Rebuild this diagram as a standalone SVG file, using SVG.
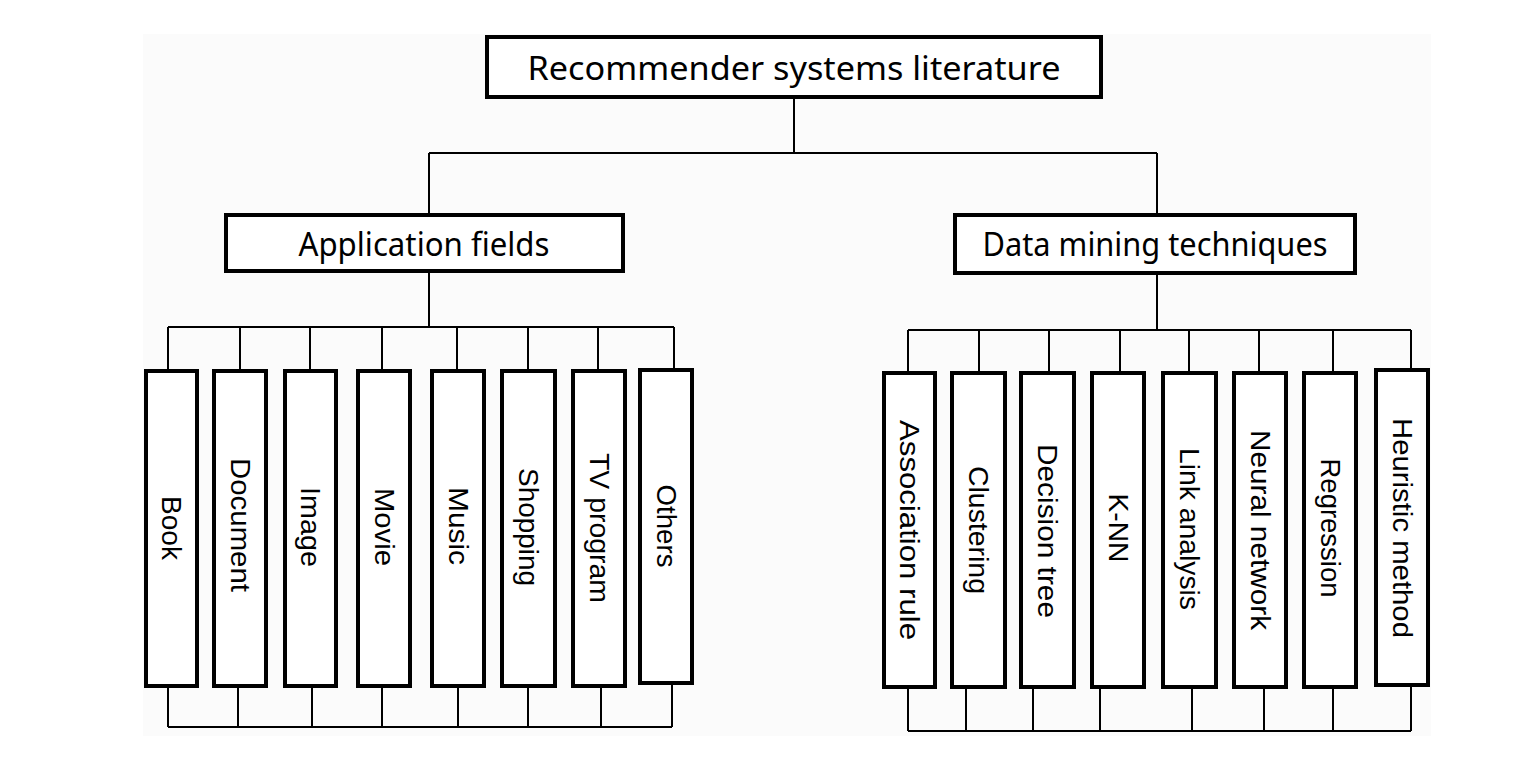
<svg xmlns="http://www.w3.org/2000/svg" width="1518" height="771" viewBox="0 0 1518 771">
<style>
.bx{fill:#fff;stroke:#000;stroke-width:4}
.ln{fill:none;stroke:#000;stroke-width:2}
.hd{font-family:"Noto Sans","Open Sans","Liberation Sans",sans-serif;font-size:32px;fill:#000;text-anchor:middle}
.vt{font-family:"Liberation Sans",Arial,sans-serif;font-size:27px;fill:#000;text-anchor:middle;dominant-baseline:central}
</style>
<rect x="0" y="0" width="1518" height="771" fill="#fff"/>
<rect x="143" y="34" width="1288" height="702" fill="#fbfbfb"/>
<g id="connectors">
<path class="ln" d="M794 97V153M429 153H1157M429 153V215M1157 153V215"/>
<path class="ln" d="M429 271V327M168 327H674M168 327V371M240 327V371M310 327V371M382 327V371M457 327V371M528 327V371M598 327V371M674 327V370"/>
<path class="ln" d="M168 686V727M238 686V727M312 686V727M382 686V727M458 686V727M528 686V727M601 686V727M672 683V727M168 727H672"/>
<path class="ln" d="M1157 273V330M908 330H1411M908 330V373M979 330V373M1049 330V373M1120 330V373M1189 330V373M1259 330V373M1333 330V373M1411 330V370"/>
<path class="ln" d="M908 687V731M966 687V731M1033 687V731M1100 687V731M1192 687V731M1264 687V731M1333 687V731M1411 685V731M908 731H1411"/>
</g>
<g id="root"><rect class="bx" x="487" y="37" width="614" height="60"/><text class="hd" x="794" y="80" font-size="34" textLength="533" lengthAdjust="spacingAndGlyphs">Recommender systems literature</text></g>
<g id="app"><rect class="bx" x="226" y="215" width="397" height="56"/><text class="hd" x="424" y="256" textLength="251" lengthAdjust="spacingAndGlyphs">Application fields</text></g>
<g id="dm"><rect class="bx" x="955" y="215" width="400" height="58"/><text class="hd" x="1155" y="256" textLength="345" lengthAdjust="spacingAndGlyphs">Data mining techniques</text></g>
<g id="book"><rect class="bx" x="146" y="371" width="51" height="315"/><text class="vt" transform="translate(171,528) rotate(90)" textLength="64" lengthAdjust="spacingAndGlyphs">Book</text></g>
<g id="document"><rect class="bx" x="214" y="371" width="52" height="315"/><text class="vt" transform="translate(240,525) rotate(90)" textLength="134" lengthAdjust="spacingAndGlyphs">Document</text></g>
<g id="image"><rect class="bx" x="285" y="371" width="51" height="315"/><text class="vt" transform="translate(310,527) rotate(90)" textLength="80" lengthAdjust="spacingAndGlyphs">Image</text></g>
<g id="movie"><rect class="bx" x="358" y="371" width="52" height="315"/><text class="vt" transform="translate(384,527) rotate(90)" textLength="78" lengthAdjust="spacingAndGlyphs">Movie</text></g>
<g id="music"><rect class="bx" x="432" y="371" width="52" height="315"/><text class="vt" transform="translate(458,526) rotate(90)" textLength="78" lengthAdjust="spacingAndGlyphs">Music</text></g>
<g id="shopping"><rect class="bx" x="502" y="371" width="53" height="315"/><text class="vt" transform="translate(528,527) rotate(90)" textLength="118" lengthAdjust="spacingAndGlyphs">Shopping</text></g>
<g id="tv"><rect class="bx" x="573" y="371" width="52" height="315"/><text class="vt" transform="translate(599,528) rotate(90)" textLength="150" lengthAdjust="spacingAndGlyphs">TV program</text></g>
<g id="others"><rect class="bx" x="640" y="370" width="52" height="313"/><text class="vt" transform="translate(666,526) rotate(90)" textLength="83" lengthAdjust="spacingAndGlyphs">Others</text></g>
<g id="assoc"><rect class="bx" x="884" y="373" width="51" height="314"/><text class="vt" transform="translate(909,530) rotate(90)" textLength="220" lengthAdjust="spacingAndGlyphs">Association rule</text></g>
<g id="clustering"><rect class="bx" x="952" y="373" width="53" height="314"/><text class="vt" transform="translate(978,530) rotate(90)" textLength="128" lengthAdjust="spacingAndGlyphs">Clustering</text></g>
<g id="dtree"><rect class="bx" x="1021" y="373" width="53" height="314"/><text class="vt" transform="translate(1047,531) rotate(90)" textLength="174" lengthAdjust="spacingAndGlyphs">Decision tree</text></g>
<g id="knn"><rect class="bx" x="1092" y="373" width="52" height="314"/><text class="vt" transform="translate(1118,528) rotate(90)" textLength="69" lengthAdjust="spacingAndGlyphs">K-NN</text></g>
<g id="link"><rect class="bx" x="1163" y="373" width="53" height="314"/><text class="vt" transform="translate(1189,529) rotate(90)" textLength="162" lengthAdjust="spacingAndGlyphs">Link analysis</text></g>
<g id="neural"><rect class="bx" x="1234" y="373" width="52" height="314"/><text class="vt" transform="translate(1260,530) rotate(90)" textLength="200" lengthAdjust="spacingAndGlyphs">Neural network</text></g>
<g id="regression"><rect class="bx" x="1304" y="373" width="52" height="314"/><text class="vt" transform="translate(1330,528) rotate(90)" textLength="139" lengthAdjust="spacingAndGlyphs">Regression</text></g>
<g id="heuristic"><rect class="bx" x="1376" y="370" width="52" height="315"/><text class="vt" transform="translate(1402,528) rotate(90)" textLength="220" lengthAdjust="spacingAndGlyphs">Heuristic method</text></g>
</svg>
